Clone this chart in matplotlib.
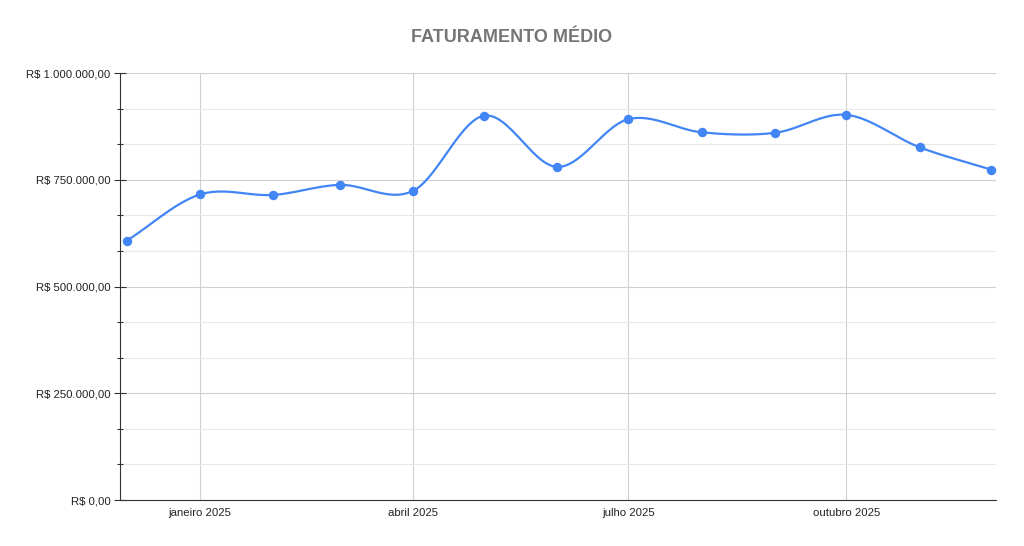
import numpy as np
import matplotlib
matplotlib.use("Agg")
from matplotlib import pyplot as plt
import matplotlib.dates as mdates
from datetime import datetime, timedelta

plt.rcParams['font.family'] = ['Liberation Sans', 'DejaVu Sans']

# dados
meses = ["2024-12-01", "2025-01-01", "2025-02-01", "2025-03-01", "2025-04-01",
         "2025-05-01", "2025-06-01", "2025-07-01", "2025-08-01", "2025-09-01",
         "2025-10-01", "2025-11-01", "2025-12-01"]
faturamento = [607000, 715500, 714500, 738000, 724000, 900000, 780000,
               892000, 861000, 860000, 902000, 826000, 774000]
tick_datas = ["2025-01-01", "2025-04-01", "2025-07-01", "2025-10-01"]
tick_nomes = ["janeiro 2025", "abril 2025", "julho 2025", "outubro 2025"]

datas = [datetime.strptime(m, "%Y-%m-%d") for m in meses]
x = mdates.date2num(datas)
y = np.array(faturamento, dtype=float)

# curva suave (catmull-rom / hermite)
def suave(x, y, n=30):
    m = np.zeros_like(y)
    for i in range(len(x)):
        if i == 0:
            m[i] = (y[1] - y[0]) / (x[1] - x[0])
        elif i == len(x) - 1:
            m[i] = (y[-1] - y[-2]) / (x[-1] - x[-2])
        else:
            m[i] = (y[i+1] - y[i-1]) / (x[i+1] - x[i-1])
    xs, ys = [], []
    for i in range(len(x) - 1):
        h = x[i+1] - x[i]
        t = np.linspace(0, 1, n)
        h00 = 2*t**3 - 3*t**2 + 1
        h10 = t**3 - 2*t**2 + t
        h01 = -2*t**3 + 3*t**2
        h11 = t**3 - t**2
        xs.extend(x[i] + t*h)
        ys.extend(h00*y[i] + h10*h*m[i] + h01*y[i+1] + h11*h*m[i+1])
    return np.array(xs), np.array(ys)

fig = plt.figure(figsize=(10.24, 5.46), dpi=100)
ax = fig.add_axes([120/1024, 46/546, 876/1024, 427/546])

xs, ys = suave(x, y)
ax.plot(xs, ys, color='#4285F4', lw=1.6, zorder=3)
ax.plot(x, y, 'o', color='#4285F4', ms=5.8, zorder=4)

ax.set_xlim(x[0] - 2.8, x[-1] + 2.25)
ax.set_ylim(0, 1000000)

ax.yaxis.set_major_locator(plt.MultipleLocator(250000))
ax.yaxis.set_minor_locator(plt.MultipleLocator(250000/3))

def reais(value, tick_number):
    s = "{:,.2f}".format(value).replace(",", "X").replace(".", ",").replace("X", ".")
    return "R$ " + s

ax.yaxis.set_major_formatter(plt.FuncFormatter(reais))

tick_x = mdates.date2num([datetime.strptime(d, "%Y-%m-%d") for d in tick_datas])
ax.set_xticks(tick_x)
ax.set_xticklabels(tick_nomes)

ax.grid(True, which='major', color='#d0d0d0', lw=0.8)
ax.grid(True, which='minor', axis='y', color='#e8e8e8', lw=0.8)
ax.set_axisbelow(True)

for s in ['top', 'right']:
    ax.spines[s].set_visible(False)
ax.spines['left'].set_color('#333333')
ax.spines['bottom'].set_color('#333333')

ax.tick_params(axis='y', which='major', direction='inout', length=8, width=0.8,
               color='#333333', labelsize=8.2, labelcolor='#222222', pad=3)
ax.tick_params(axis='y', which='minor', direction='inout', length=4, width=0.8,
               color='#333333')
ax.tick_params(axis='x', length=0, labelsize=8.2, labelcolor='#222222', pad=6)

fig.text(0.5, 1 - 37/546, "FATURAMENTO MÉDIO", ha='center', va='center',
         fontsize=13, fontweight='bold', color='#757575')

plt.savefig('out.png', dpi=100)
